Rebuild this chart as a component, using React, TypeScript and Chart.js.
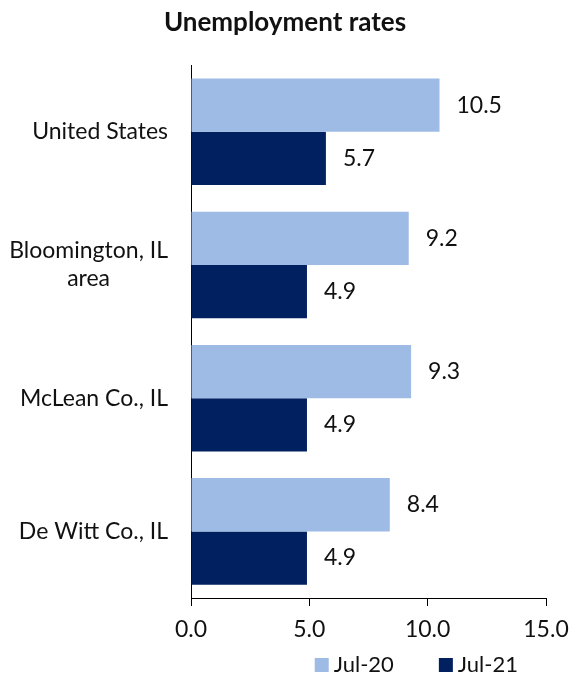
import React, { useEffect, useRef } from "react";
import { Chart, registerables } from "chart.js";

Chart.register(...registerables);

const categories: (string | string[])[] = [
  "United States",
  ["Bloomington, IL", "area"],
  "McLean Co., IL",
  "De Witt Co., IL",
];
const seriesNames = ["Jul-20", "Jul-21"];
const jul20 = [10.5, 9.2, 9.3, 8.4];
const jul21 = [5.7, 4.9, 4.9, 4.9];
const xTicks = [0, 5, 10, 15];

const FONT = "Lato";
const FS = 23;
const LIGHT = "#9EBBE5";
const DARK = "#002060";

const dataLabelPlugin = {
  id: "dataLabels",
  afterDatasetsDraw(chart: any) {
    const ctx = chart.ctx;
    ctx.save();
    ctx.font = `${FS}px ${FONT}`;
    ctx.fillStyle = "#111";
    ctx.textAlign = "left";
    ctx.textBaseline = "middle";
    chart.data.datasets.forEach((ds: any, di: number) => {
      const meta = chart.getDatasetMeta(di);
      meta.data.forEach((bar: any, i: number) => {
        ctx.fillText(Number(ds.data[i]).toFixed(1), bar.x + 17, bar.y);
      });
    });
    ctx.restore();
  },
};

const yLabelPlugin = {
  id: "yLabels",
  afterDraw(chart: any) {
    const ctx = chart.ctx;
    const scale = chart.scales.y;
    ctx.save();
    ctx.font = `${FS}px ${FONT}`;
    ctx.fillStyle = "#111";
    ctx.textAlign = "center";
    ctx.textBaseline = "middle";
    const lineH = 28;
    const right = scale.right - 23;
    categories.forEach((lab, i) => {
      const lines = Array.isArray(lab) ? lab : [lab];
      const maxW = Math.max(...lines.map((l) => ctx.measureText(l).width));
      const cx = right - maxW / 2;
      const cy = scale.getPixelForValue(i);
      const y0 = cy - ((lines.length - 1) * lineH) / 2;
      lines.forEach((l, k) => ctx.fillText(l, cx, y0 + k * lineH));
    });
    ctx.restore();
  },
};

const legendPlugin = {
  id: "customLegend",
  afterDraw(chart: any) {
    const ctx = chart.ctx;
    const area = chart.chartArea;
    ctx.save();
    ctx.font = `${FS - 1}px ${FONT}`;
    ctx.textAlign = "left";
    ctx.textBaseline = "middle";
    const box = 14;
    const gapBoxText = 5;
    const gapItems = 45;
    const items = chart.data.datasets.map((ds: any) => ({
      text: ds.label,
      color: ds.backgroundColor,
      w: box + gapBoxText + ctx.measureText(ds.label).width,
    }));
    const total = items.reduce((s: number, it: any) => s + it.w, 0) + gapItems * (items.length - 1);
    let x = area.right - 28 - total;
    const cy = area.bottom + 67;
    items.forEach((it: any) => {
      ctx.fillStyle = it.color;
      ctx.fillRect(x, cy - box / 2, box, box);
      ctx.fillStyle = "#111";
      ctx.fillText(it.text, x + box + gapBoxText, cy);
      x += it.w + gapItems;
    });
    ctx.restore();
  },
};

export default function App() {
  const ref = useRef<HTMLCanvasElement | null>(null);
  useEffect(() => {
    document.body.style.margin = "0";
    if (!ref.current) return;
    const chart = new Chart(ref.current, {
      type: "bar",
      data: {
        labels: categories as any,
        datasets: [
          {
            label: seriesNames[0],
            data: jul20,
            backgroundColor: LIGHT,
            categoryPercentage: 0.8,
            barPercentage: 1.0,
          },
          {
            label: seriesNames[1],
            data: jul21,
            backgroundColor: DARK,
            categoryPercentage: 0.8,
            barPercentage: 1.0,
          },
        ],
      },
      options: {
        indexAxis: "y",
        animation: false,
        responsive: false,
        devicePixelRatio: 1,
        layout: { padding: 0 },
        plugins: {
          legend: { display: false },
          tooltip: { enabled: false },
          title: {
            display: true,
            text: "Unemployment rates",
            color: "#111",
            font: { family: FONT, size: 26, weight: "bold" },
            padding: { top: 7, bottom: 27 },
          },
        },
        scales: {
          x: {
            type: "linear",
            min: 0,
            max: 15,
            afterBuildTicks: (scale: any) => {
              scale.ticks = xTicks.map((v) => ({ value: v }));
            },
            afterFit: (scale: any) => {
              scale.height = 80;
              scale.paddingRight = 24;
              scale.paddingLeft = 0;
            },
            ticks: {
              callback: (v: any) => Number(v).toFixed(1),
              color: "#111",
              font: { family: FONT, size: FS },
              padding: 10,
              maxRotation: 0,
            },
            grid: {
              display: true,
              drawOnChartArea: false,
              drawTicks: true,
              tickLength: 8,
              color: "#000",
            },
            border: { display: true, color: "#000", width: 1 },
          },
          y: {
            type: "category",
            afterFit: (scale: any) => {
              scale.width = 191;
              scale.paddingTop = 0;
              scale.paddingBottom = 0;
            },
            ticks: { display: false },
            grid: { display: false },
            border: { display: true, color: "#000", width: 1 },
          },
        },
      },
      plugins: [dataLabelPlugin, yLabelPlugin, legendPlugin],
    });
    return () => chart.destroy();
  }, []);
  return (
    <div style={{ width: 570, height: 678 }}>
      <canvas ref={ref} width={570} height={678} style={{ width: 570, height: 678, display: "block" }} />
    </div>
  );
}
